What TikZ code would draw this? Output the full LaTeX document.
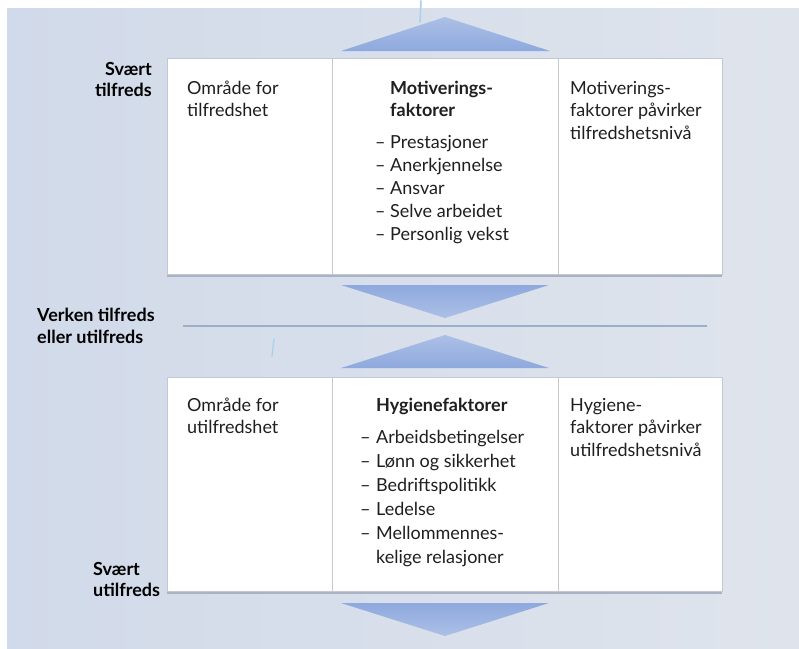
\documentclass[tikz,border=0pt]{standalone}
\usepackage{fontspec}
\setmainfont{Lato}
\newfontfamily\lblfamily{Lato}
\definecolor{bgleft}{HTML}{D1DAEA}
\definecolor{bgright}{HTML}{DFE4EC}
\definecolor{tridark}{HTML}{8EA9DE}
\definecolor{trilight}{HTML}{ACC0E6}
\definecolor{boxedge}{HTML}{C3C9D3}
\definecolor{boxshadow}{HTML}{A9B3C4}
\definecolor{divider}{HTML}{C4C7CC}
\definecolor{midline}{HTML}{9DAEC8}
\definecolor{txtgray}{HTML}{1F1F1F}
\definecolor{tick}{HTML}{A8D2EC}
\begin{document}
\begin{tikzpicture}[x=1pt,y=-1pt,
  txt/.style={anchor=base west, inner sep=0pt, text=txtgray, font=\fontsize{18}{21}\selectfont},
  hdr/.style={txt, font=\fontsize{18}{21}\selectfont\bfseries},
  lbl/.style={anchor=base west, inner sep=0pt, text=black, font=\lblfamily\fontsize{18}{21}\selectfont\bfseries},
  lblr/.style={lbl, anchor=base east},
  panel/.style={fill=white, draw=boxedge, line width=0.8pt},
  shadowbox/.style={fill=boxshadow},
  divline/.style={draw=divider, line width=0.9pt},
  uptri/.style={top color=trilight, bottom color=tridark},
  downtri/.style={top color=tridark, bottom color=trilight},
  tickline/.style={draw=tick, line width=1.6pt, line cap=round}
]
\useasboundingbox (0,0) rectangle (799,648);
% background
\fill[white] (0,0) rectangle (799,648);
\shade[left color=bgleft, right color=bgright] (7,8) rectangle (799,648);

% small blue ticks (scan marks)
\coordinate (tk1a) at (421,1);  \coordinate (tk1b) at (420,22);
\draw[tickline] (tk1a) -- (tk1b);
\coordinate (tk2a) at (274,339);  \coordinate (tk2b) at (272,356);
\draw[tickline, line width=1.3pt] (tk2a) -- (tk2b);

% triangles
\shade[uptri] (341,51) -- (445,17) -- (550,51) -- cycle;
\shade[downtri] (341,285) -- (549,285) -- (445,318) -- cycle;
\shade[uptri] (341,368) -- (445,335) -- (549,368) -- cycle;
\shade[downtri] (341,603) -- (549,603) -- (445,636) -- cycle;

% middle line
\coordinate (ml) at (183,326);
\coordinate (mr) at (707,326);
\draw[midline, line width=1.3pt] (ml) -- (mr);

% top panel
\fill[shadowbox] (167,60) rectangle (722,276.5);
\path[panel] (167,58) rectangle (722,274.5);
\coordinate (td1t) at (332,58);  \coordinate (td1b) at (332,274.5);
\coordinate (td2t) at (558,58);  \coordinate (td2b) at (558,274.5);
\draw[divline] (td1t) -- (td1b);
\draw[divline] (td2t) -- (td2b);

% bottom panel
\fill[shadowbox] (167,379) rectangle (722,593.5);
\path[panel] (167,377) rectangle (722,591.5);
\coordinate (bd1t) at (332,377);  \coordinate (bd1b) at (332,591.5);
\coordinate (bd2t) at (558,377);  \coordinate (bd2b) at (558,591.5);
\draw[divline] (bd1t) -- (bd1b);
\draw[divline] (bd2t) -- (bd2b);

% left labels
\node[lblr] (l1a) at (152,75) {Svært};
\node[lblr] (l1b) at (152,96.5) {tilfreds};
\node[lbl] (l2a) at (37,321) {Verken tilfreds};
\node[lbl] (l2b) at (37,343) {eller utilfreds};
\node[lbl] (l3a) at (93,575) {Svært};
\node[lbl] (l3b) at (93,596.5) {utilfreds};

% top panel text
\node[txt] (ta1) at (187,94) {Område for};
\node[txt] (ta2) at (187,116.5) {tilfredshet};
\node[hdr] (tb1) at (390,94) {Motiverings-};
\node[hdr] (tb2) at (390,116.5) {faktorer};
\node[txt] (tl1) at (375,148) {\makebox[15pt][l]{–}Prestasjoner};
\node[txt] (tl2) at (375,171) {\makebox[15pt][l]{–}Anerkjennelse};
\node[txt] (tl3) at (375,194) {\makebox[15pt][l]{–}Ansvar};
\node[txt] (tl4) at (375,217) {\makebox[15pt][l]{–}Selve arbeidet};
\node[txt] (tl5) at (375,240) {\makebox[15pt][l]{–}Personlig vekst};
\node[txt] (tc1) at (570,94) {Motiverings-};
\node[txt] (tc2) at (570,116.5) {faktorer påvirker};
\node[txt] (tc3) at (570,139) {tilfredshetsnivå};

% bottom panel text
\node[txt] (ba1) at (187,411) {Område for};
\node[txt] (ba2) at (187,433.5) {utilfredshet};
\node[hdr] (bb1) at (376,411) {Hygienefaktorer};
\node[txt] (bl1) at (360,443) {\makebox[16pt][l]{–}Arbeidsbetingelser};
\node[txt] (bl2) at (360,467) {\makebox[16pt][l]{–}Lønn og sikkerhet};
\node[txt] (bl3) at (360,491) {\makebox[16pt][l]{–}Bedriftspolitikk};
\node[txt] (bl4) at (360,515) {\makebox[16pt][l]{–}Ledelse};
\node[txt] (bl5) at (360,539) {\makebox[16pt][l]{–}Mellommennes-};
\node[txt] (bl6) at (376,563) {kelige relasjoner};
\node[txt] (bc1) at (570,411) {Hygiene-};
\node[txt] (bc2) at (570,433.5) {faktorer påvirker};
\node[txt] (bc3) at (570,456) {utilfredshetsnivå};
\end{tikzpicture}
\end{document}
